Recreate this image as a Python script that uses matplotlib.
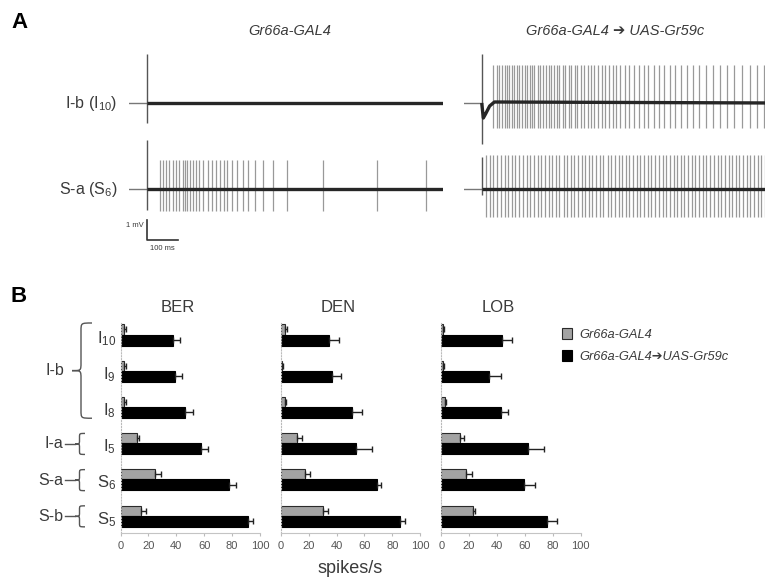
import matplotlib
matplotlib.use("Agg")
import matplotlib.pyplot as plt
from matplotlib.patches import Patch, PathPatch
from matplotlib.path import Path
from matplotlib.transforms import blended_transform_factory

plt.rcParams["font.family"] = ["Liberation Sans", "DejaVu Sans"]
plt.rcParams["mathtext.default"] = "regular"

TXT = "#3a3a3a"
ARROW = "\u2794"

# ---------------- Panel A: spike trains (times in ms, amplitudes in mV) ----
trace_end = 935
pre_stim = -55

left_top_spikes = []
left_bot_spikes = [42, 50, 61, 71, 82, 92, 103, 114, 121, 128, 137, 147, 156,
                   166, 179, 194, 205, 219, 231, 244, 254, 268, 286, 303, 321,
                   342, 368, 399, 442, 556, 726, 881]
right_top_spikes = [37, 47, 56, 63, 72, 79, 87, 95, 103, 111, 119, 126, 135,
                    142, 151, 158, 166, 176, 184, 193, 202, 211, 219, 228, 237,
                    245, 255, 264, 274, 283, 293, 302, 313, 323, 334, 344, 355,
                    366, 378, 389, 401, 413, 424, 437, 451, 464, 479, 495, 511,
                    526, 542, 558, 576, 593, 611, 628, 647, 666, 687, 708, 729,
                    753, 774, 797, 821, 845, 868, 892, 915]
right_bot_spikes = [14, 26, 37, 49, 60, 72, 84, 95, 106, 119, 129, 142, 153,
                    165, 176, 187, 200, 211, 223, 235, 245, 258, 268, 281, 292,
                    303, 316, 326, 339, 349, 361, 374, 384, 397, 407, 419, 432,
                    442, 455, 465, 477, 489, 500, 513, 523, 535, 547, 558, 571,
                    581, 593, 605, 616, 629, 639, 651, 663, 674, 686, 697, 708,
                    721, 732, 744, 755, 766, 779, 789, 802, 813, 824, 837, 847,
                    860, 871, 882, 893, 905, 916]

# spike amplitude up / down (mV) per trace
spike_up = {"lt": 0.0, "lb": 1.45, "rt": 1.9, "rb": 1.7}
spike_down = {"lt": 0.0, "lb": 1.1, "rt": 1.25, "rb": 1.4}
# stimulus artifact (up, down) in mV
artifact = {"lt": (2.45, 1.0), "lb": (2.45, 1.05), "rt": (2.45, 2.05), "rb": (1.6, 0.3)}
# early baseline dip of the right upper recording
rt_base_t = [0, 5, 12, 25, 40, trace_end]
rt_base_v = [0, -0.75, -0.55, -0.15, 0.05, 0]

row_offset = -4.3  # second recording sits 4.3 mV below the first

fig = plt.figure(figsize=(7.65, 5.8), dpi=100)

ax_w = 313.8 / 765
axA_left = fig.add_axes([129.3 / 765, 1 - 255 / 580, ax_w, 210 / 580])
axA_right = fig.add_axes([464.3 / 765, 1 - 255 / 580, ax_w, 210 / 580])


def draw_trace(ax, spikes, key, off, base_t=None, base_v=None):
    up, dn = spike_up[key], spike_down[key]
    ax.vlines(spikes, off - dn, off + up, color="#999999", lw=0.9, zorder=1)
    au, ad = artifact[key]
    ax.vlines([0], off - ad, off + au, color="#555555", lw=1.0, zorder=3)
    ax.plot([pre_stim, 0], [off, off], color="#777777", lw=1.0, zorder=2)
    if base_t is None:
        base_t, base_v = [0, trace_end], [0, 0]
    ax.plot(base_t, [v + off for v in base_v], color="#262626", lw=2.4,
            solid_capstyle="butt", zorder=4)


draw_trace(axA_left, left_top_spikes, "lt", 0)
draw_trace(axA_left, left_bot_spikes, "lb", row_offset)
draw_trace(axA_right, right_top_spikes, "rt", 0, rt_base_t, rt_base_v)
draw_trace(axA_right, right_bot_spikes, "rb", row_offset)

for ax in (axA_left, axA_right):
    ax.set_xlim(pre_stim, trace_end)
    ax.set_ylim(-7.6, 2.9)
    ax.axis("off")

# scale bar: 1 mV / 100 ms
sb_top = -5.85
axA_left.plot([0, 0, 100], [sb_top, sb_top - 1, sb_top - 1], color="#333333",
              lw=1.2, clip_on=False)
axA_left.text(-10, sb_top - 0.25, "1 mV", ha="right", va="center",
              fontsize=5.5, color=TXT)
axA_left.text(48, sb_top - 1.25, "100 ms", ha="center", va="top",
              fontsize=5.5, color=TXT)

axA_left.text(-92, 0, "I-b (I$_{10}$)", ha="right", va="center", fontsize=11.5,
              color=TXT, clip_on=False)
axA_left.text(-92, row_offset, "S-a (S$_{6}$)", ha="right", va="center",
              fontsize=11.5, color=TXT, clip_on=False)

fig.text(290 / 765, 1 - 31 / 580, "Gr66a-GAL4", ha="center", va="center",
         fontsize=10.5, style="italic", color=TXT)
fig.text(615 / 765, 1 - 31 / 580, "Gr66a-GAL4 " + ARROW + " UAS-Gr59c",
         ha="center", va="center", fontsize=10.5, style="italic", color=TXT)
fig.text(11 / 765, 1 - 23 / 580, "A", fontsize=16, fontweight="bold",
         va="center", ha="left")
fig.text(11 / 765, 1 - 297 / 580, "B", fontsize=16, fontweight="bold",
         va="center", ha="left")

# ---------------- Panel B: spikes/s bar charts ------------------------------
rows = ["I$_{10}$", "I$_{9}$", "I$_{8}$", "I$_{5}$", "S$_{6}$", "S$_{5}$"]
regions = ["BER", "DEN", "LOB"]

ber_ctrl = [2.5, 2.5, 2.5, 11.5, 24.6, 15.0]
ber_ctrl_err = [1.3, 1.3, 1.3, 1.5, 4.5, 3.5]
ber_gr59c = [37.8, 39.0, 46.0, 57.4, 78.0, 91.6]
ber_gr59c_err = [4.8, 4.8, 6.0, 5.5, 4.8, 3.6]

den_ctrl = [2.9, 1.0, 3.0, 11.8, 17.4, 30.2]
den_ctrl_err = [1.2, 0.5, 0.8, 3.7, 3.6, 3.6]
den_gr59c = [34.3, 36.7, 51.2, 53.6, 68.8, 85.5]
den_gr59c_err = [7.7, 6.3, 7.3, 12.1, 3.4, 3.9]

lob_ctrl = [1.4, 1.4, 2.4, 13.2, 17.5, 23.0]
lob_ctrl_err = [0.5, 0.5, 0.8, 3.1, 4.7, 1.6]
lob_gr59c = [43.8, 34.2, 42.6, 62.4, 59.3, 75.6]
lob_gr59c_err = [7.2, 8.4, 5.2, 11.3, 7.7, 7.7]

ctrl_vals = [ber_ctrl, den_ctrl, lob_ctrl]
ctrl_errs = [ber_ctrl_err, den_ctrl_err, lob_ctrl_err]
exp_vals = [ber_gr59c, den_gr59c, lob_gr59c]
exp_errs = [ber_gr59c_err, den_gr59c_err, lob_gr59c_err]

groups = [("I-b", 0, 2), ("I-a", 3, 3), ("S-a", 4, 4), ("S-b", 5, 5)]

row_px = 36.1
blk_h = 11 / row_px
gry_h = 10 / row_px
gry_off = -(blk_h + gry_h) / 2
ypos = list(range(len(rows)))

bax = []
for i, reg in enumerate(regions):
    ax = fig.add_axes([(120.6 + 160.3 * i) / 765, 1 - 533 / 580, 139.3 / 765,
                       210 / 580])
    bax.append(ax)
    ax.barh([y + gry_off for y in ypos], ctrl_vals[i], height=gry_h,
            color="#a3a3a3", edgecolor="#2a2a2a", lw=0.8,
            xerr=[[0] * len(ypos), ctrl_errs[i]],
            error_kw=dict(ecolor="#222222", elinewidth=1.0, capsize=2,
                          capthick=1.0))
    ax.barh(ypos, exp_vals[i], height=blk_h, color="black",
            edgecolor="black", lw=0.8,
            xerr=[[0] * len(ypos), exp_errs[i]],
            error_kw=dict(ecolor="#222222", elinewidth=1.0, capsize=2,
                          capthick=1.0))
    ax.set_xlim(0, 100)
    ax.set_ylim(5.33, -0.47)
    ax.set_xticks(range(0, 101, 20))
    ax.set_yticks([])
    ax.tick_params(axis="x", length=2, color="#bbbbbb", labelsize=8,
                   labelcolor="#555555", pad=4)
    for s in ("top", "right"):
        ax.spines[s].set_visible(False)
    ax.spines["bottom"].set_color("#c4c4c4")
    ax.spines["left"].set_color("#bbbbbb")
    ax.spines["left"].set_linestyle(":")
    ax.text(0.41, 1.076, reg, transform=ax.transAxes, ha="center",
            va="center", fontsize=12, color=TXT)

bax[1].set_xlabel("spikes/s", fontsize=13, color=TXT, labelpad=6)

# row labels, group labels and braces
axb = bax[0]
tr = blended_transform_factory(fig.transFigure, axb.transData)
for y, lab in zip(ypos, rows):
    axb.text(116 / 765, y - 0.05, lab, transform=tr, ha="right", va="center",
             fontsize=12, color=TXT)


def brace(y0, y1, xr, xm, xl, r):
    yc = (y0 + y1) / 2
    verts = [(xr, y0), (xm, y0), (xm, y0), (xm, y0 + r),
             (xm, yc - r), (xm, yc), (xm, yc), (xl, yc),
             (xm, yc), (xm, yc), (xm, yc + r),
             (xm, y1 - r), (xm, y1), (xm, y1), (xr, y1)]
    codes = [Path.MOVETO, Path.CURVE4, Path.CURVE4, Path.CURVE4,
             Path.LINETO, Path.CURVE4, Path.CURVE4, Path.CURVE4,
             Path.CURVE4, Path.CURVE4, Path.CURVE4,
             Path.LINETO, Path.CURVE4, Path.CURVE4, Path.CURVE4]
    p = PathPatch(Path(verts, codes), transform=tr, fill=False,
                  edgecolor="#555555", lw=1.0, clip_on=False)
    axb.add_patch(p)
    return yc


for name, r0, r1 in groups:
    if r0 != r1:
        yc = brace(r0 - 0.47, r1 + 0.16, 92 / 765, 81 / 765, 72 / 765, 0.22)
        axb.text(64 / 765, yc, name, transform=tr, ha="right", va="center",
                 fontsize=11.5, color=TXT)
    else:
        yc = brace(r0 - 0.42, r0 + 0.16, 85 / 765, 79.5 / 765, 75 / 765, 0.1)
        axb.plot([65 / 765, 75 / 765], [yc, yc], transform=tr,
                 color="#555555", lw=1.0, clip_on=False)
        axb.text(63 / 765, yc, name, transform=tr, ha="right", va="center",
                 fontsize=11.5, color=TXT)

handles = [Patch(facecolor="#a3a3a3", edgecolor="#2a2a2a", lw=0.8),
           Patch(facecolor="black", edgecolor="black", lw=0.8)]
fig.legend(handles, ["Gr66a-GAL4", "Gr66a-GAL4" + ARROW + "UAS-Gr59c"],
           loc="upper left", bbox_to_anchor=(562 / 765, 1 - 328 / 580),
           frameon=False, handlelength=0.75, handleheight=0.9,
           handletextpad=0.6, labelspacing=0.7, borderpad=0,
           borderaxespad=0, prop=dict(style="italic", size=9.3),
           labelcolor=TXT)

fig.savefig("out.png", dpi=100)
